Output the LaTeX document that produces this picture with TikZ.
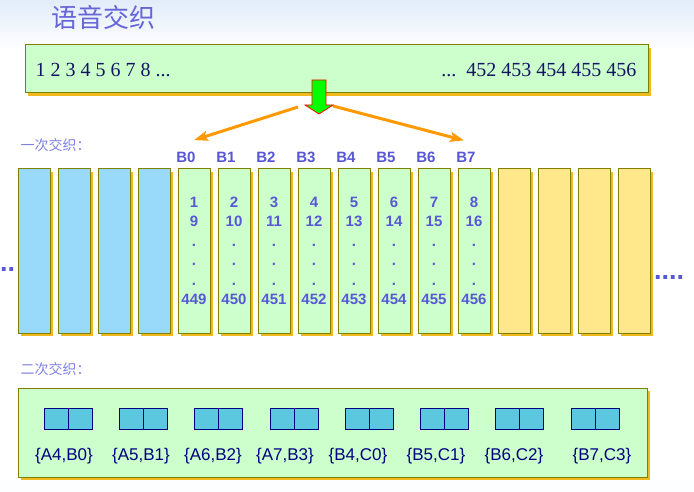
\documentclass[tikz,border=0pt]{standalone}
\usepackage{fontspec}
\setmainfont{Liberation Serif}
\setsansfont{Liberation Sans}
\newfontfamily\cjk{Noto Sans CJK SC}
\definecolor{titleblue}{RGB}{101, 101, 216}
\definecolor{stageblue}{RGB}{128, 128, 224}
\definecolor{numblue}{RGB}{88, 88, 214}
\definecolor{panelgreen}{RGB}{204, 255, 204}
\definecolor{olivebrd}{RGB}{128, 128, 0}
\definecolor{shadowgold}{RGB}{240, 185, 30}
\definecolor{slotblue}{RGB}{153, 217, 250}
\definecolor{slotyellow}{RGB}{255, 232, 140}
\definecolor{cellcyan}{RGB}{92, 200, 224}
\definecolor{navy}{RGB}{0, 0, 128}
\definecolor{seqnavy}{RGB}{20, 20, 100}
\definecolor{splitorange}{RGB}{255, 153, 0}
\definecolor{splitgreen}{RGB}{0, 255, 0}
\definecolor{topblue}{RGB}{226, 236, 250}
\usetikzlibrary{arrows.meta, positioning, calc, shadows}

\begin{document}
\begin{tikzpicture}[x=1pt, y=-1pt,
    goldshadow/.style={general shadow={fill=shadowgold, shadow xshift=3pt, shadow yshift=-3pt}},
    panel/.style={draw=olivebrd, fill=panelgreen, line width=1pt, goldshadow, inner sep=0pt},
    slot/.style={draw=olivebrd, line width=1pt, goldshadow, minimum width=32pt,
                 minimum height=164pt, inner sep=0pt, align=center, text=numblue,
                 font=\sffamily\bfseries\fontsize{15}{19.5}\selectfont},
    blab/.style={font=\sffamily\bfseries\fontsize{15}{18}\selectfont, text=numblue},
    stage/.style={font=\cjk\fontsize{14}{16}\selectfont, text=stageblue, anchor=west},
    cell/.style={draw=navy, fill=cellcyan, line width=0.8pt, minimum width=24pt,
                 minimum height=21pt, inner sep=0pt},
    more/.style={font=\sffamily\bfseries\fontsize{27}{30}\selectfont, text=numblue, inner sep=0pt}]
  \useasboundingbox (0,0) rectangle (694,492);
  \fill[top color=topblue, bottom color=white] (0,0) rectangle (694,50);
  \fill[white!95!topblue] (0,480) rectangle (694,492);

  \node[font=\cjk\fontsize{26}{30}\selectfont, text=titleblue, anchor=west]
        (title) at (48,18) {语音交织};

  % speech frame
  \node[panel, minimum width=623pt, minimum height=48pt] (seq) at (336.5,69) {};
  \node[font=\fontsize{20}{24}\selectfont, text=seqnavy, anchor=west]
        (seqhead) at (32,70) {1 2 3 4 5 6 7 8 ...};
  \node[font=\fontsize{20}{24}\selectfont, text=seqnavy, anchor=east]
        (seqtail) at (640,70) {...\ \ 452 453 454 455 456};

  % first interleaving
  \node[stage] (stage1) at (17,145) {一次交织：};
  \foreach \i in {0,...,3}
    \node[slot, fill=slotblue] (col\i) at (34+40*\i,251) {};
  \foreach \i/\a/\b/\z in {4/1/9/449, 5/2/10/450, 6/3/11/451, 7/4/12/452,
                           8/5/13/453, 9/6/14/454, 10/7/15/455, 11/8/16/456}
    \node[slot, fill=panelgreen] (col\i) at (34+40*\i,251) {\a\\\b\\.\\.\\.\\\z};
  \foreach \i in {12,...,15}
    \node[slot, fill=slotyellow] (col\i) at (34+40*\i,251) {};
  \foreach \k/\c in {0/4, 1/5, 2/6, 3/7, 4/8, 5/9, 6/10, 7/11}
    \node[blab, anchor=south] (b\k) at ($(col\c.north)+(-8,-2.7)$) {B\k};
  \node[more, anchor=west] (moreL) at (0,269) {..};
  \node[more, anchor=west] (moreR) at (654,277) {....};

  \coordinate (splitL) at (298,107);
  \coordinate (splitR) at (333,106);
  \draw[-{Stealth[length=14pt, width=10pt, inset=3pt]}, splitorange, line width=3pt]
        (splitL) -- ($(b0.north)+(8,-8)$);
  \draw[-{Stealth[length=14pt, width=10pt, inset=3pt]}, splitorange, line width=3pt]
        (splitR) -- ($(b7.north)+(-2,-8)$);
  \draw[red, fill=splitgreen, line width=0.8pt] (312,80) -- (326,80) -- (326,105)
        -- (333,105) -- (319,114) -- (305,105) -- (312,105) -- cycle;

  % second interleaving
  \node[stage] (stage2) at (17,369) {二次交织：};
  \node[panel, minimum width=629pt, minimum height=89pt] (mix) at (332.5,432.5) {};
  \foreach \p/\q/\t [count=\n] in {68/64/{\{A4,B0\}}, 143/141/{\{A5,B1\}},
        218/213/{\{A6,B2\}}, 294/285/{\{A7,B3\}}, 369/358/{\{B4,C0\}},
        444/436/{\{B5,C1\}}, 519/514/{\{B6,C2\}}, 595/602/{\{B7,C3\}}} {
    \node[cell] (cellA\n) at (\p-12,418.5) {};
    \node[cell] (cellB\n) at (\p+12,418.5) {};
    \node[font=\sffamily\fontsize{17}{20}\selectfont, text=navy] (tag\n) at (\q,456) {\t};
  }
\end{tikzpicture}
\end{document}
